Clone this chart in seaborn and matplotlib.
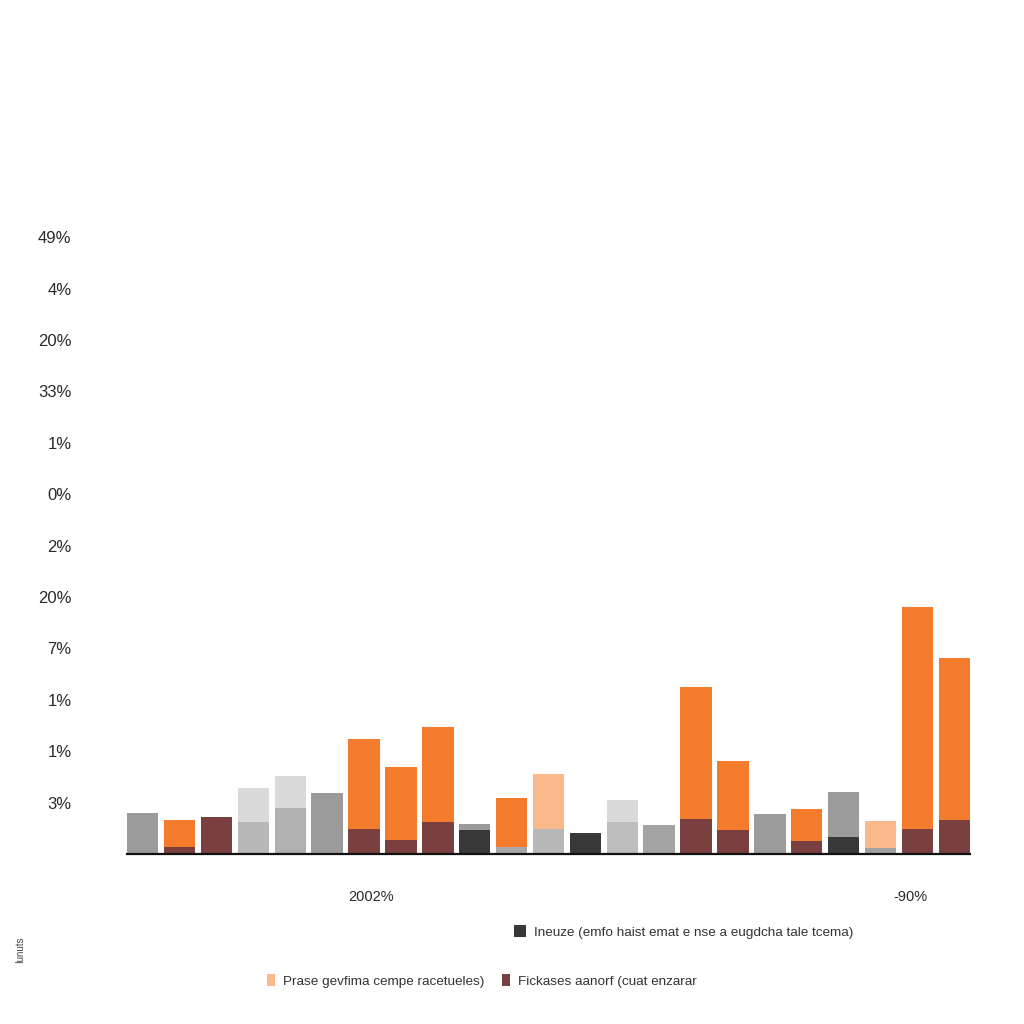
import numpy as np
import pandas as pd
import matplotlib
matplotlib.use("Agg")
import matplotlib.pyplot as plt
import seaborn as sns
from matplotlib.patches import Patch

# ---------------- data ----------------
bar_ids = [f"b{i:02d}" for i in range(1, 24)]

ORANGE = "#f47b2b"
MAROON = "#7a3f3f"
DARK = "#383838"
GRAY = "#9b9b9b"
MIDGRAY = "#b8b8b8"
LIGHT = "#dadada"
PEACH = "#f9b98b"

outer_values = [0.80, 0.66, 0.72, 1.28, 1.52, 1.19, 2.24, 1.69, 2.47, 0.58, 1.09, 1.56,
                0.41, 1.05, 0.56, 3.25, 1.81, 0.78, 0.88, 1.21, 0.64, 4.81, 3.81]
outer_colors = [GRAY, ORANGE, MAROON, LIGHT, LIGHT, GRAY, ORANGE, ORANGE, ORANGE, GRAY, ORANGE, PEACH,
                DARK, LIGHT, "#a3a3a3", ORANGE, ORANGE, GRAY, ORANGE, GRAY, PEACH, ORANGE, ORANGE]

inner_values = [0.0, 0.14, 0.0, 0.62, 0.89, 0.0, 0.49, 0.27, 0.62, 0.47, 0.14, 0.49,
                0.0, 0.62, 0.0, 0.68, 0.47, 0.0, 0.25, 0.33, 0.12, 0.49, 0.66]
inner_colors = [GRAY, MAROON, MAROON, MIDGRAY, "#b0b0b0", GRAY, MAROON, MAROON, MAROON, DARK, "#a8a8a8", MIDGRAY,
                DARK, "#bdbdbd", GRAY, MAROON, MAROON, GRAY, MAROON, DARK, "#a0a0a0", MAROON, MAROON]

y_tick_values = list(range(1, 13))
y_tick_labels = ["3%", "1%", "1%", "7%", "20%", "2%", "0%", "1%", "33%", "20%", "4%", "49%"]

x_tick_positions = [6.2, 20.8]
x_tick_labels = ["2002%", "-90%"]

legend_row1_labels = ["Ineuze (emfo haist emat e nse a eugdcha tale tcema)"]
legend_row1_colors = [DARK]
legend_row2_labels = ["Prase gevfima cempe racetueles)", "Fickases aanorf (cuat enzarar"]
legend_row2_colors = [PEACH, MAROON]

side_note = "Iunuts"

# ---------------- plot ----------------
sns.set_style("white")
plt.rcParams["font.family"] = ["Liberation Sans", "DejaVu Sans"]

fig = plt.figure(figsize=(10.24, 10.24), dpi=100)
ax = fig.add_axes([127 / 1024, 1 - 854 / 1024, (970 - 127) / 1024, 13 * 51.4 / 1024])

outer_df = pd.DataFrame({"bar": bar_ids, "value": outer_values})
inner_df = pd.DataFrame({"bar": bar_ids, "value": inner_values})

sns.barplot(data=outer_df, x="bar", y="value", hue="bar", order=bar_ids,
            palette=dict(zip(bar_ids, outer_colors)), saturation=1, width=0.85,
            legend=False, ax=ax, linewidth=0)
sns.barplot(data=inner_df, x="bar", y="value", hue="bar", order=bar_ids,
            palette=dict(zip(bar_ids, inner_colors)), saturation=1, width=0.85,
            legend=False, ax=ax, linewidth=0)

ax.set_xlim(-0.425, 22.425)
ax.set_ylim(0, 13)
ax.set_xlabel("")
ax.set_ylabel("")

ax.set_yticks(y_tick_values)
ax.set_yticklabels(y_tick_labels, fontsize=12, color="#2a2a2a")
ax.tick_params(axis="y", length=0, pad=40)

ax.set_xticks(x_tick_positions)
ax.set_xticklabels(x_tick_labels, fontsize=10.5, color="#2a2a2a")
ax.tick_params(axis="x", length=0, pad=26)

for s in ["top", "right", "left"]:
    ax.spines[s].set_visible(False)
ax.spines["bottom"].set_color("#111111")
ax.spines["bottom"].set_linewidth(1.6)

h1 = [Patch(facecolor=c, edgecolor="none") for c in legend_row1_colors]
leg1 = fig.legend(h1, legend_row1_labels, loc="center left", bbox_to_anchor=(502 / 1024, 1 - 932 / 1024),
                  frameon=False, fontsize=9.7, handlelength=0.9, handleheight=0.9, handletextpad=0.6,
                  labelcolor="#333333")
h2 = [Patch(facecolor=c, edgecolor="none") for c in legend_row2_colors]
leg2 = fig.legend(h2, legend_row2_labels, loc="center left", bbox_to_anchor=(255 / 1024, 1 - 981 / 1024),
                  frameon=False, fontsize=9.7, ncol=2, handlelength=0.6, handleheight=0.9,
                  handletextpad=0.6, columnspacing=1.3, labelcolor="#333333")

fig.text(20 / 1024, 1 - 950 / 1024, side_note, rotation=90, fontsize=7, color="#444444",
         ha="center", va="center")

fig.savefig("out.png", dpi=100, facecolor="white")
